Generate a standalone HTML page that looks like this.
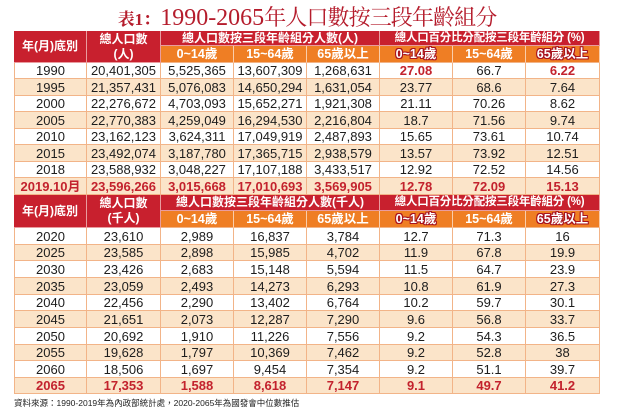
<!DOCTYPE html>
<html>
<head>
<meta charset="utf-8">
<style>
html,body{margin:0;padding:0;background:#fff;}
body{width:621px;height:416px;position:relative;overflow:hidden;font-family:"Liberation Sans","Noto Sans CJK TC",sans-serif;}
.title{position:absolute;left:14px;top:3px;width:586px;text-align:center;white-space:nowrap;color:#b51c2c;line-height:28px;}
.title .t1{font-family:"Liberation Serif","Noto Serif CJK SC",serif;font-weight:bold;font-size:17px;}
.title .t2{font-family:"Liberation Serif",serif;font-size:24px;}
.title .t3{font-family:"Noto Serif CJK SC","Noto Serif CJK SC",serif;font-size:22px;letter-spacing:-0.9px;}
.g{position:absolute;left:14px;width:586px;display:grid;grid-template-columns:73px 74px 73px 73px 73px 73px 73px 74px;}
.g1{top:31px;grid-template-rows:15px 17px 16px 17px 16px 17px 16px 17px 16px 17px;}
.g2{top:195px;grid-template-rows:16px 17px 17px 16px 17px 17px 16px 17px 17px 16px 17px 16px;}
.g div{box-sizing:border-box;}
.c{display:flex;align-items:center;justify-content:center;white-space:nowrap;border-right:1px solid #f2b488;border-bottom:1px solid #f2b488;font-size:13px;color:#1d1d1d;background:#fff;line-height:1;}
.r{display:contents;}
.r>.c:first-child{border-left:1px solid #f2b488;}
.r.b>.c{background:#fbe4c9;}
.r.hl>.c{color:#c3222d;font-weight:bold;}
.red{color:#c3222d !important;font-weight:bold;}
.h{display:flex;align-items:center;justify-content:center;text-align:center;white-space:nowrap;background:#c8202e;color:#fff;font-weight:bold;font-size:12px;border-right:1px solid rgba(255,240,235,.6);border-bottom:1px solid rgba(255,240,235,.6);line-height:15px;font-family:"Liberation Sans","Noto Sans CJK TC",sans-serif;}
.h.sm{font-size:11.5px;letter-spacing:-0.2px;}
.o{display:flex;align-items:center;justify-content:center;white-space:nowrap;background:#ef7e24;color:#fff;font-weight:bold;font-size:12.5px;border-right:1px solid rgba(255,240,230,.7);border-bottom:1px solid #f2b488;line-height:1;}
.ol{text-shadow:1px 0 0 #a8131f,-1px 0 0 #a8131f,0 1px 0 #a8131f,0 -1px 0 #a8131f,1px 1px 0 #a8131f,-1px -1px 0 #a8131f,1px -1px 0 #a8131f,-1px 1px 0 #a8131f;}
.src{position:absolute;left:14px;top:398px;font-size:8.5px;color:#222;white-space:nowrap;line-height:10px;font-family:"Liberation Sans","Noto Sans CJK TC",sans-serif;}
</style>
</head>
<body>
<div class="title"><span class="t1">表1：</span><span class="t2">1990-2065</span><span class="t3">年人口數按三段年齡組分</span></div>

<div class="g g1">
  <div class="h" style="grid-column:1;grid-row:1/3;">年(月)底別</div>
  <div class="h" style="grid-column:2;grid-row:1/3;">總人口數<br>(人)</div>
  <div class="h" style="grid-column:3/6;grid-row:1;">總人口數按三段年齡組分人數(人)</div>
  <div class="h sm" style="grid-column:6/9;grid-row:1;">總人口百分比分配按三段年齡組分 (%)</div>
  <div class="o" style="grid-column:3;grid-row:2;">0~14歲</div>
  <div class="o" style="grid-column:4;grid-row:2;">15~64歲</div>
  <div class="o" style="grid-column:5;grid-row:2;">65歲以上</div>
  <div class="o ol" style="grid-column:6;grid-row:2;">0~14歲</div>
  <div class="o" style="grid-column:7;grid-row:2;">15~64歲</div>
  <div class="o ol" style="grid-column:8;grid-row:2;">65歲以上</div>

  <div class="r"><div class="c">1990</div><div class="c">20,401,305</div><div class="c">5,525,365</div><div class="c">13,607,309</div><div class="c">1,268,631</div><div class="c red">27.08</div><div class="c">66.7</div><div class="c red">6.22</div></div>
  <div class="r b"><div class="c">1995</div><div class="c">21,357,431</div><div class="c">5,076,083</div><div class="c">14,650,294</div><div class="c">1,631,054</div><div class="c">23.77</div><div class="c">68.6</div><div class="c">7.64</div></div>
  <div class="r"><div class="c">2000</div><div class="c">22,276,672</div><div class="c">4,703,093</div><div class="c">15,652,271</div><div class="c">1,921,308</div><div class="c">21.11</div><div class="c">70.26</div><div class="c">8.62</div></div>
  <div class="r b"><div class="c">2005</div><div class="c">22,770,383</div><div class="c">4,259,049</div><div class="c">16,294,530</div><div class="c">2,216,804</div><div class="c">18.7</div><div class="c">71.56</div><div class="c">9.74</div></div>
  <div class="r"><div class="c">2010</div><div class="c">23,162,123</div><div class="c">3,624,311</div><div class="c">17,049,919</div><div class="c">2,487,893</div><div class="c">15.65</div><div class="c">73.61</div><div class="c">10.74</div></div>
  <div class="r b"><div class="c">2015</div><div class="c">23,492,074</div><div class="c">3,187,780</div><div class="c">17,365,715</div><div class="c">2,938,579</div><div class="c">13.57</div><div class="c">73.92</div><div class="c">12.51</div></div>
  <div class="r"><div class="c">2018</div><div class="c">23,588,932</div><div class="c">3,048,227</div><div class="c">17,107,188</div><div class="c">3,433,517</div><div class="c">12.92</div><div class="c">72.52</div><div class="c">14.56</div></div>
  <div class="r b hl"><div class="c">2019.10月</div><div class="c">23,596,266</div><div class="c">3,015,668</div><div class="c">17,010,693</div><div class="c">3,569,905</div><div class="c">12.78</div><div class="c">72.09</div><div class="c">15.13</div></div>
</div>

<div class="g g2">
  <div class="h" style="grid-column:1;grid-row:1/3;">年(月)底別</div>
  <div class="h" style="grid-column:2;grid-row:1/3;">總人口數<br>(千人)</div>
  <div class="h" style="grid-column:3/6;grid-row:1;">總人口數按三段年齡組分人數(千人)</div>
  <div class="h sm" style="grid-column:6/9;grid-row:1;">總人口百分比分配按三段年齡組分 (%)</div>
  <div class="o" style="grid-column:3;grid-row:2;">0~14歲</div>
  <div class="o" style="grid-column:4;grid-row:2;">15~64歲</div>
  <div class="o" style="grid-column:5;grid-row:2;">65歲以上</div>
  <div class="o ol" style="grid-column:6;grid-row:2;">0~14歲</div>
  <div class="o" style="grid-column:7;grid-row:2;">15~64歲</div>
  <div class="o ol" style="grid-column:8;grid-row:2;">65歲以上</div>

  <div class="r"><div class="c">2020</div><div class="c">23,610</div><div class="c">2,989</div><div class="c">16,837</div><div class="c">3,784</div><div class="c">12.7</div><div class="c">71.3</div><div class="c">16</div></div>
  <div class="r b"><div class="c">2025</div><div class="c">23,585</div><div class="c">2,898</div><div class="c">15,985</div><div class="c">4,702</div><div class="c">11.9</div><div class="c">67.8</div><div class="c">19.9</div></div>
  <div class="r"><div class="c">2030</div><div class="c">23,426</div><div class="c">2,683</div><div class="c">15,148</div><div class="c">5,594</div><div class="c">11.5</div><div class="c">64.7</div><div class="c">23.9</div></div>
  <div class="r b"><div class="c">2035</div><div class="c">23,059</div><div class="c">2,493</div><div class="c">14,273</div><div class="c">6,293</div><div class="c">10.8</div><div class="c">61.9</div><div class="c">27.3</div></div>
  <div class="r"><div class="c">2040</div><div class="c">22,456</div><div class="c">2,290</div><div class="c">13,402</div><div class="c">6,764</div><div class="c">10.2</div><div class="c">59.7</div><div class="c">30.1</div></div>
  <div class="r b"><div class="c">2045</div><div class="c">21,651</div><div class="c">2,073</div><div class="c">12,287</div><div class="c">7,290</div><div class="c">9.6</div><div class="c">56.8</div><div class="c">33.7</div></div>
  <div class="r"><div class="c">2050</div><div class="c">20,692</div><div class="c">1,910</div><div class="c">11,226</div><div class="c">7,556</div><div class="c">9.2</div><div class="c">54.3</div><div class="c">36.5</div></div>
  <div class="r b"><div class="c">2055</div><div class="c">19,628</div><div class="c">1,797</div><div class="c">10,369</div><div class="c">7,462</div><div class="c">9.2</div><div class="c">52.8</div><div class="c">38</div></div>
  <div class="r"><div class="c">2060</div><div class="c">18,506</div><div class="c">1,697</div><div class="c">9,454</div><div class="c">7,354</div><div class="c">9.2</div><div class="c">51.1</div><div class="c">39.7</div></div>
  <div class="r b hl"><div class="c">2065</div><div class="c">17,353</div><div class="c">1,588</div><div class="c">8,618</div><div class="c">7,147</div><div class="c">9.1</div><div class="c">49.7</div><div class="c">41.2</div></div>
</div>

<div class="src">資料來源：1990-2019年為內政部統計處，2020-2065年為國發會中位數推估</div>
</body>
</html>
